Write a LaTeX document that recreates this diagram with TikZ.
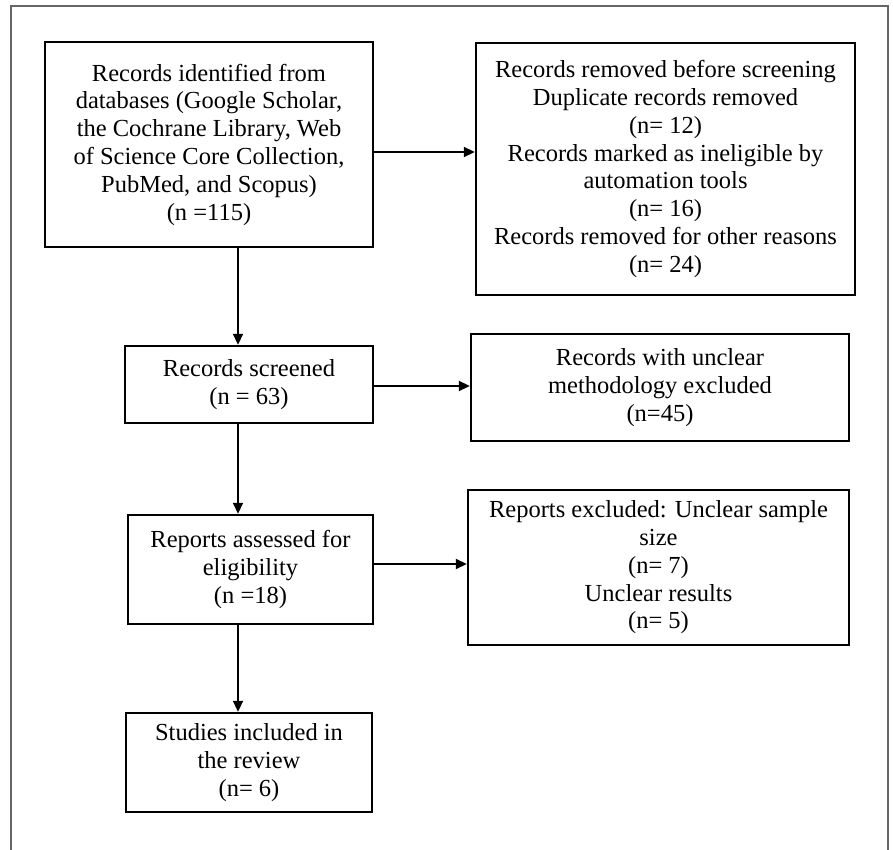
\documentclass[tikz,border=0pt]{standalone}
\usepackage{fontspec}
\setmainfont{Liberation Serif}
\usetikzlibrary{arrows.meta}
\begin{document}
\begin{tikzpicture}[x=1pt,y=-1pt,
  box/.style={draw=black,line width=2.4pt,inner sep=0pt,align=center,
    font=\fontsize{24.5}{27.8}\selectfont},
  arr/.style={draw=black,line width=1.8pt,-{Triangle[length=11pt,width=10pt]}},
  frame/.style={draw=black!60,line width=1.5pt}]
\useasboundingbox (0,0) rectangle (893,850);
\draw[frame] (11,852) -- (11,6) -- (888,6) -- (888,852);
\node[box,minimum width=328pt,minimum height=205pt] (b1) at (209,144.5)
  {Records identified from\\databases (Google Scholar,\\the Cochrane Library, Web\\of Science Core Collection,\\PubMed, and Scopus)\\(n =115)};
\node[box,minimum width=379pt,minimum height=252pt] (b2) at (665.5,169)
  {Records removed before screening\\Duplicate records removed\\(n= 12)\\Records marked as ineligible by\\automation tools\\(n= 16)\\Records removed for other reasons\\(n= 24)};
\node[box,minimum width=248pt,minimum height=77pt] (b3) at (249,384.5)
  {Records screened\\(n = 63)};
\node[box,minimum width=378pt,minimum height=107pt] (b4) at (660,387.5)
  {Records with unclear\\methodology excluded\\(n=45)};
\node[box,minimum width=245pt,minimum height=109pt] (b5) at (250.5,569.5)
  {Reports assessed for\\eligibility\\(n =18)};
\node[box,minimum width=381pt,minimum height=155pt] (b6) at (658.5,567.5)
  {Reports excluded: Unclear sample\\size\\(n= 7)\\Unclear results\\(n= 5)};
\node[box,minimum width=246pt,minimum height=99pt] (b7) at (249,762.5)
  {Studies included in\\the review\\(n= 6)};
\coordinate (vx) at (238,0);
\coordinate (h1) at (0,152);
\coordinate (h2) at (0,386);
\coordinate (h3) at (0,564);
\draw[arr] (b1.south -| vx) -- (b3.north -| vx);
\draw[arr] (b3.south -| vx) -- (b5.north -| vx);
\draw[arr] (b5.south -| vx) -- (b7.north -| vx);
\draw[arr] (b1.east |- h1) -- (b2.west |- h1);
\draw[arr] (b3.east |- h2) -- (b4.west |- h2);
\draw[arr] (b5.east |- h3) -- (b6.west |- h3);
\end{tikzpicture}
\end{document}
